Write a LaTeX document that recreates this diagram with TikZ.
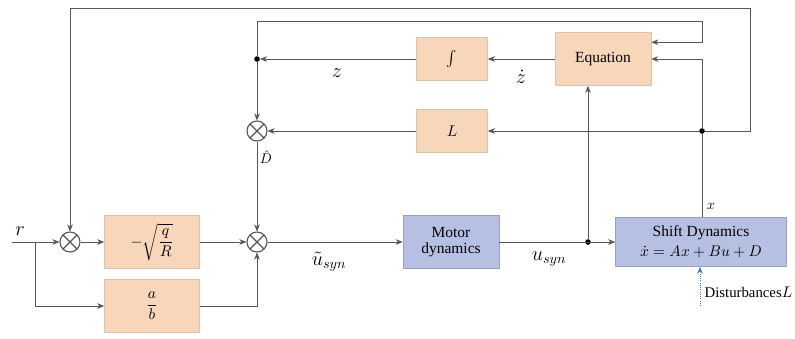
\documentclass[tikz,border=0pt]{standalone}
\usepackage{amsmath}
\usepackage{fontspec}
\setmainfont{Liberation Serif}
\usetikzlibrary{arrows.meta, positioning, calc}
\definecolor{blockorange}{RGB}{248, 214, 186}
\definecolor{edgeorange}{RGB}{225, 195, 170}
\definecolor{blockblue}{RGB}{182, 192, 226}
\definecolor{edgeblue}{RGB}{150, 160, 200}
\definecolor{wiregray}{RGB}{85, 85, 85}
\definecolor{distblue}{RGB}{60, 120, 190}

\begin{document}
\begin{tikzpicture}[
  x=0.025cm, y=-0.025cm,
  block/.style={rectangle, draw=edgeorange, fill=blockorange,
                minimum width=2.4cm, minimum height=1.3cm, align=center,
                font=\fontsize{11}{13}\selectfont},
  plant/.style={rectangle, draw=edgeblue, fill=blockblue,
                minimum width=2.4cm, minimum height=1.3cm, align=center,
                font=\fontsize{11}{13}\selectfont},
  sumnode/.style={circle, draw=wiregray, thick, minimum size=0.5cm, inner sep=0pt,
                  path picture={\draw[wiregray, thick]
                    (path picture bounding box.north west) -- (path picture bounding box.south east)
                    (path picture bounding box.north east) -- (path picture bounding box.south west);}},
  jdot/.style={circle, fill=black, inner sep=0pt, minimum size=4pt},
  arr/.style={-{Stealth[length=5pt, width=4pt]}, semithick, wiregray},
  wire/.style={semithick, wiregray},
  distarr/.style={-{Stealth[length=5pt, width=4pt]}, semithick, densely dotted, distblue},
  lab/.style={font=\Large, inner sep=1pt},
  slab/.style={font=\normalsize, inner sep=1pt}
]
  \useasboundingbox (0,0) rectangle (795,338);

  % blocks
  \node[block, minimum width=2.4cm, minimum height=1.325cm] (eqn) at (603,59) {Equation};
  \node[block, minimum width=1.775cm, minimum height=1.075cm] (integ) at (452,59) {$\int$};
  \node[block, minimum width=1.775cm, minimum height=1.075cm] (gainL) at (452,131) {$L$};
  \node[block, minimum width=2.375cm, minimum height=1.325cm] (gainq) at (152,242) {$-\sqrt{\dfrac{q}{R}}$};
  \node[block, minimum width=2.375cm, minimum height=1.325cm] (gainab) at (152,306) {$\dfrac{a}{b}$};
  \node[plant, minimum width=2.4cm, minimum height=1.325cm] (motor) at (451,242) {Motor\\[-2pt]dynamics};
  \node[plant, minimum width=4.275cm, minimum height=1.225cm] (shift) at (701,242)
       {Shift Dynamics\\[1pt]$\dot{x}=Ax+Bu+D$};

  % summing junctions
  \node[sumnode] (sumr) at (70,242) {};
  \node[sumnode] (sumd) at (257,131) {};
  \node[sumnode] (sumu) at (257,242) {};

  % junction points
  \node[jdot] (zd) at (257,59) {};
  \node[jdot] (xd) at (702,131) {};
  \node[jdot] (ud) at (588,242) {};
  \coordinate (rin) at (12,242);
  \coordinate (rb) at (35,242);
  \coordinate (topr) at (750,8);
  \coordinate (topz) at (702,21);
  \coordinate (zin) at ([yshift=-0.25cm]eqn.north east);
  \coordinate (dist) at (700,306);

  % forward path
  \draw[arr] (rin) -- (sumr);
  \draw[arr] (rb) |- (gainab);
  \draw[arr] (sumr) -- (gainq);
  \draw[arr] (gainq) -- (sumu);
  \draw[arr] (gainab) -| (sumu);
  \draw[arr] (sumu) -- (motor);
  \draw[arr] (motor) -- (shift);
  \draw[arr] (ud) -- (ud |- eqn.south);

  % feedback paths
  \draw[wire] (shift.north -| xd) -- (xd);
  \draw[arr] (xd) -- (gainL);
  \draw[arr] (xd) |- (eqn.east);
  \draw[arr] (xd) -- (xd -| topr) -- (topr) -| (sumr);
  \draw[arr] (eqn) -- (integ);
  \draw[arr] (integ) -- (zd);
  \draw[arr] (zd) |- (topz) |- (zin);
  \draw[arr] (zd) -- (sumd);
  \draw[arr] (gainL) -- (sumd);
  \draw[arr] (sumd) -- (sumu);
  \draw[distarr] (dist) -- (dist |- shift.south);

  % labels
  \node[lab] (labr) at (20,231) {$r$};
  \node[lab] (labz) at (337,73) {$z$};
  \node[lab] (labzd) at (521,77) {$\dot{z}$};
  \node[slab] (labd) at (266,157) {$\hat{D}$};
  \node[lab] (labu) at (329,262) {$\tilde{u}_{syn}$};
  \node[lab] (labus) at (549,259) {$u_{syn}$};
  \node[slab] (labx) at (711,206) {$x$};
  \node[anchor=west, inner sep=1pt, font=\fontsize{10.5}{12}\selectfont] (labdist) at (703,292) {Disturbances$L$};
\end{tikzpicture}
\end{document}
